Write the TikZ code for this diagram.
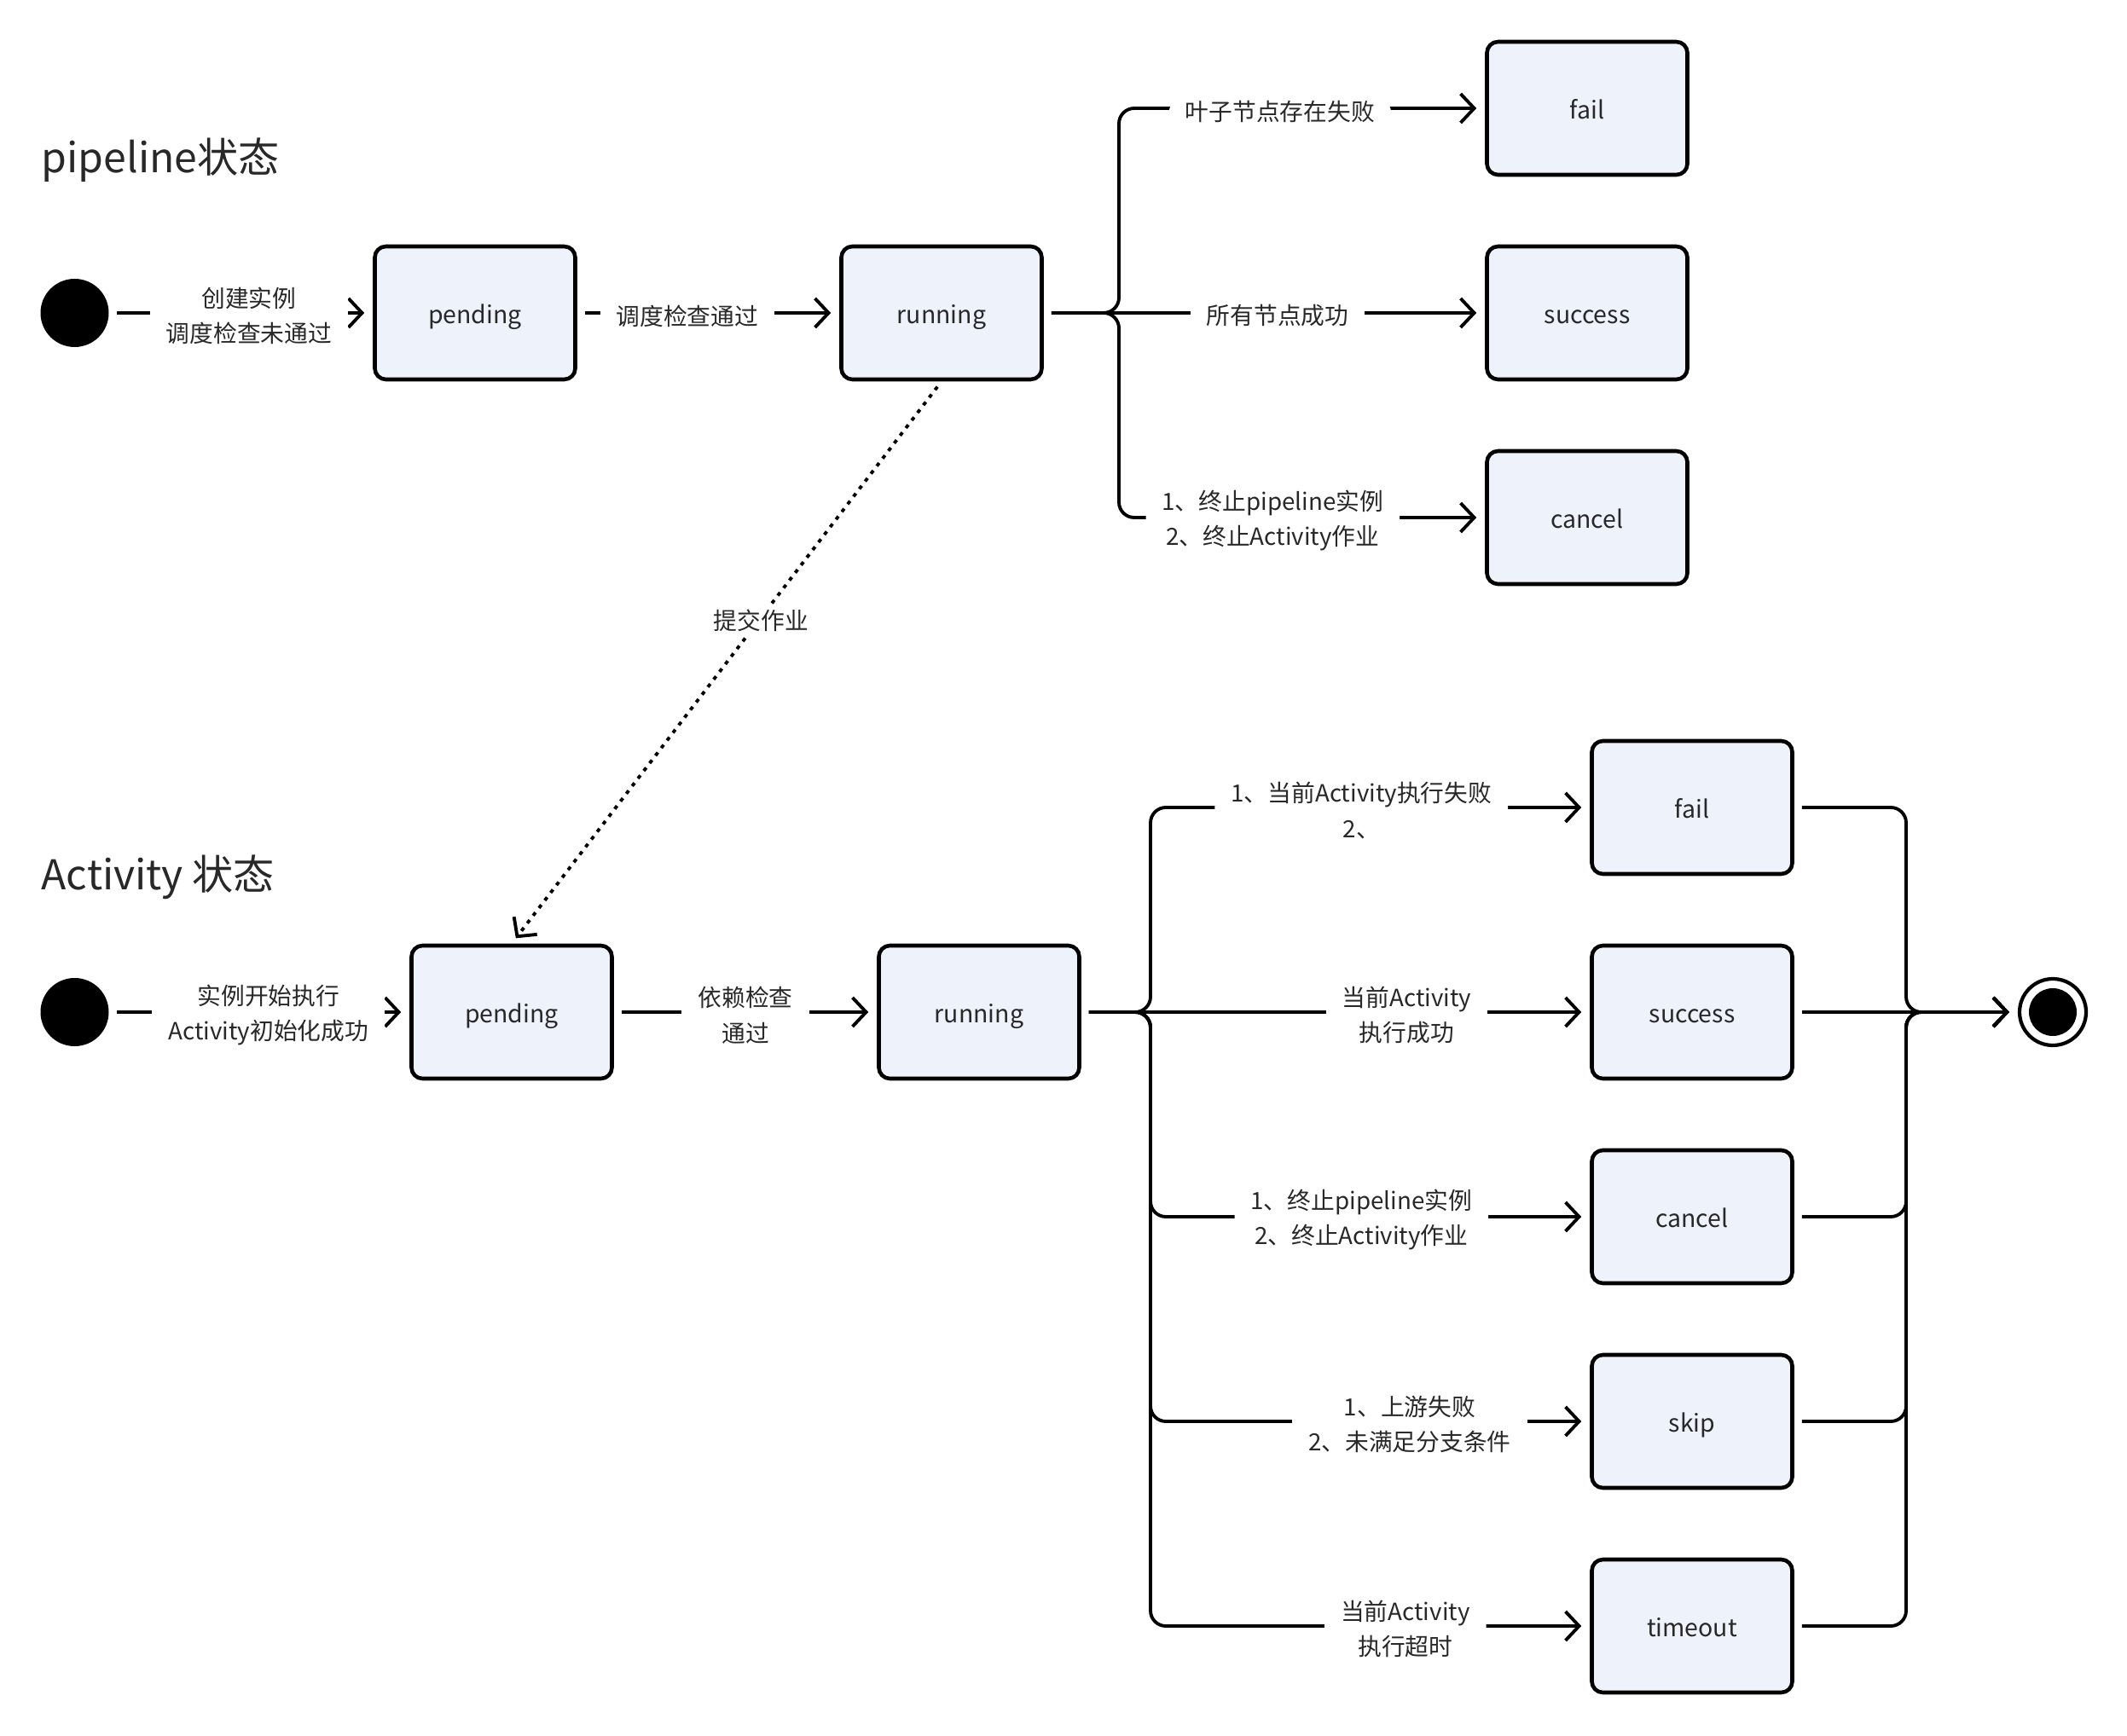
\documentclass[tikz,border=0pt]{standalone}
\usepackage{fontspec}
\setmainfont{Noto Sans CJK SC}
\usetikzlibrary{arrows.meta}
\definecolor{boxfill}{RGB}{238,242,251}
\definecolor{txt}{RGB}{40,40,40}
\begin{document}
\begin{tikzpicture}[
  state/.style={draw, line width=1.3pt, rounded corners=0.13cm, fill=boxfill, text=txt,
    minimum width=2.35cm, minimum height=1.56cm, text height=2.5mm, text depth=0mm,
    font=\fontsize{8.1}{10}\selectfont},
  init/.style={circle, fill=black, minimum size=0.8cm, inner sep=0pt},
  final/.style={circle, draw, line width=1.2pt, fill=white, minimum size=0.78cm, inner sep=0pt,
    path picture={\fill[black] (path picture bounding box.center) circle (0.28cm);}},
  arr/.style={line width=1.1pt, -{Straight Barb[length=1.6mm,width=3.4mm]},
    shorten <=0.09cm, shorten >=0.1cm},
  branch/.style={arr, rounded corners=0.18cm},
  lbl/.style={fill=white, align=center, text=txt, inner xsep=0.19cm, inner ysep=0.04cm,
    yshift=-0.035cm, font=\fontsize{7.9}{11.8}\selectfont},
  title/.style={anchor=west, inner sep=0pt, text=txt, font=\fontsize{13.7}{16}\selectfont}]
\useasboundingbox[fill=white] (0,0) rectangle (24.94,-20.36);

% pipeline
\node[title] (tpipe) at (0.48,-1.88) {pipeline状态};
\node[init] (s1) at (0.875,-3.67) {};
\node[state] (pend1) at (5.57,-3.67) {pending};
\node[state] (run1) at (11.04,-3.67) {running};
\node[state] (fail1) at (18.61,-1.27) {fail};
\node[state] (succ1) at (18.61,-3.67) {success};
\node[state] (canc1) at (18.61,-6.07) {cancel};
\coordinate (brT) at (13.12,-3.67);

\draw[arr] (s1) -- node[lbl, pos=0.53] {创建实例\\调度检查未通过} (pend1);
\draw[arr] (pend1) -- node[lbl, pos=0.42] {调度检查通过} (run1);
\draw[branch] (run1.east) -- (brT) -- (brT |- fail1) -- node[lbl, pos=0.44] {叶子节点存在失败} (fail1.west);
\draw[arr] (run1) -- node[lbl, pos=0.53] {所有节点成功} (succ1);
\draw[branch] (run1.east) -- (brT) -- (brT |- canc1) -- node[lbl, pos=0.42] {1、终止pipeline实例\\2、终止Activity作业} (canc1.west);

% activity
\node[title] (tact) at (0.48,-10.29) {Activity 状态};
\node[init] (s2) at (0.875,-11.87) {};
\node[state] (pend2) at (6.00,-11.87) {pending};
\node[state] (run2) at (11.48,-11.87) {running};
\node[state] (fail2) at (19.84,-9.47) {fail};
\node[state] (succ2) at (19.84,-11.87) {success};
\node[state] (canc2) at (19.84,-14.27) {cancel};
\node[state] (skip2) at (19.84,-16.67) {skip};
\node[state] (tout2) at (19.84,-19.07) {timeout};
\node[final] (end2) at (24.07,-11.87) {};
\coordinate (brL) at (13.49,-11.87);
\coordinate (brR) at (22.35,-11.87);

\draw[line width=1.1pt, dash pattern=on 1.3pt off 1.9pt, -{Straight Barb[length=1.6mm,width=3.4mm]},
  shorten <=0.08cm, shorten >=0.08cm] (run1.south) -- node[lbl, pos=0.42, inner xsep=0.1cm] {提交作业} (pend2.north);

\draw[arr] (s2) -- node[lbl, pos=0.53] {实例开始执行\\Activity初始化成功} (pend2);
\draw[arr] (pend2) -- node[lbl] {依赖检查\\通过} (run2);
\draw[branch] (run2.east) -- (brL) -- (brL |- fail2) -- node[lbl, pos=0.48] {1、当前Activity执行失败\\2、} (fail2.west);
\draw[arr] (run2) -- node[lbl, pos=0.64] {当前Activity\\执行成功} (succ2);
\draw[branch] (run2.east) -- (brL) -- (brL |- canc2) -- node[lbl, pos=0.48] {1、终止pipeline实例\\2、终止Activity作业} (canc2.west);
\draw[branch] (run2.east) -- (brL) -- (brL |- skip2) -- node[lbl, pos=0.59] {1、上游失败\\2、未满足分支条件} (skip2.west);
\draw[branch] (run2.east) -- (brL) -- (brL |- tout2) -- node[lbl, pos=0.58] {当前Activity\\执行超时} (tout2.west);

\draw[branch] (fail2.east) -- (brR |- fail2) -- (brR) -- (end2);
\draw[arr] (succ2) -- (end2);
\draw[branch] (canc2.east) -- (brR |- canc2) -- (brR) -- (end2);
\draw[branch] (skip2.east) -- (brR |- skip2) -- (brR) -- (end2);
\draw[branch] (tout2.east) -- (brR |- tout2) -- (brR) -- (end2);
\end{tikzpicture}
\end{document}
